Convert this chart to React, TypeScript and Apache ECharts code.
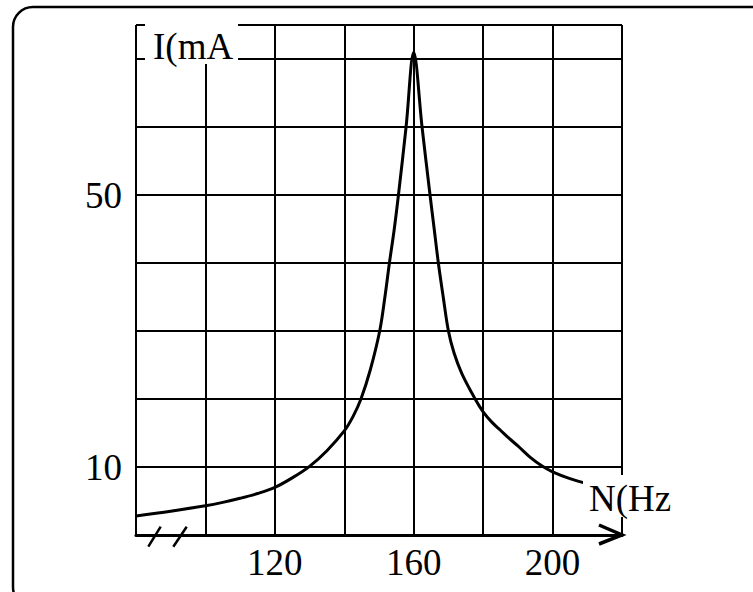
import React, { useEffect, useRef } from "react";
import * as echarts from "echarts";

const xMin = 80;
const xMax = 220;
const xInterval = 20;
const xTickLabels = [120, 160, 200];

const yMin = 0;
const yMax = 75;
const yInterval = 10;
const yTickLabels = [10, 50];

const frequencies = [
  80, 90, 100, 105, 110, 115, 120, 125, 130, 135, 140, 142.5, 144.8, 147.5, 150.2, 151.7, 153,
  154.4, 155.6, 157.8, 160, 162.4, 164.7, 165.9, 167.1, 168.5, 170, 171.6, 173.9, 177.7, 180,
  182.5, 185, 187.5, 190, 193.4, 197.1, 200, 205, 211,
];
const currents = [
  2.8, 3.5, 4.3, 4.8, 5.4, 6.1, 7.0, 8.4, 10.1, 12.4, 15.3, 17.4, 20, 24.3, 30, 35, 40,
  45, 50, 60, 71, 60, 50, 45, 40, 35, 30, 26.8, 23.7, 20, 18.1,
  16.6, 15.4, 14.2, 13.1, 11.5, 10.1, 9.3, 8.3, 7.4,
];

const xName = "N(Hz";
const yName = "I(mA";

const FONT = '"Liberation Serif", "Times New Roman", serif';

export default function App() {
  const ref = useRef<HTMLDivElement>(null);

  useEffect(() => {
    document.body.style.margin = "0";
    if (!ref.current) return;
    const chart = echarts.init(ref.current, undefined, { renderer: "svg" });
    const data = frequencies.map((f, i) => [f, currents[i]]);

    chart.setOption({
      animation: false,
      backgroundColor: "#fff",
      grid: { left: 136, top: 25, width: 486, height: 510, show: false },
      xAxis: {
        type: "value",
        min: xMin,
        max: xMax,
        interval: xInterval,
        axisLine: { show: true, lineStyle: { color: "#000", width: 3 } },
        axisTick: { show: false },
        splitLine: { show: true, lineStyle: { color: "#000", width: 2 } },
        axisLabel: {
          margin: 9,
          color: "#000",
          fontSize: 37,
          fontFamily: FONT,
          formatter: (v: number) => (xTickLabels.includes(v) ? String(v) : ""),
        },
      },
      yAxis: {
        type: "value",
        min: yMin,
        max: yMax,
        interval: yInterval,
        axisLine: { show: false },
        axisTick: { show: false },
        splitLine: { show: true, lineStyle: { color: "#000", width: 2 } },
        axisLabel: {
          margin: 14,
          color: "#000",
          fontSize: 37,
          fontFamily: FONT,
          padding: [6, 0, 0, 0],
          formatter: (v: number) => (yTickLabels.includes(v) ? String(v) : ""),
        },
      },
      series: [
        {
          type: "line",
          data,
          smooth: 0.35,
          showSymbol: false,
          clip: false,
          z: 3,
          lineStyle: { color: "#000", width: 3 },
        },
      ],
    });

    const o = chart.convertToPixel({ gridIndex: 0 }, [xMin, yMin]) as number[];
    const e = chart.convertToPixel({ gridIndex: 0 }, [xMax, yMax]) as number[];

    chart.setOption({
      graphic: [
        {
          type: "rect",
          z: 0,
          shape: { x: 13, y: 7, width: 760, height: 600, r: 20 },
          style: { fill: "none", stroke: "#000", lineWidth: 2.5 },
        },
        {
          type: "line",
          z: 20,
          shape: { x1: o[0] + 12.3, y1: o[1] + 11.7, x2: o[0] + 24.7, y2: o[1] - 8.3 },
          style: { stroke: "#000", lineWidth: 2.5 },
        },
        {
          type: "line",
          z: 20,
          shape: { x1: o[0] + 37.3, y1: o[1] + 11.7, x2: o[0] + 50.7, y2: o[1] - 8.3 },
          style: { stroke: "#000", lineWidth: 2.5 },
        },
        {
          type: "polyline",
          z: 20,
          shape: {
            points: [
              [e[0] - 23, o[1] - 10],
              [e[0], o[1]],
              [e[0] - 23, o[1] + 9],
            ],
          },
          style: { stroke: "#000", lineWidth: 3.5, fill: "none", lineJoin: "miter" },
        },
        {
          type: "rect",
          z: 50,
          shape: { x: o[0] + 9, y: e[1] - 3, width: 93, height: 42 },
          style: { fill: "#fff", stroke: "none" },
        },
        {
          type: "text",
          z: 51,
          x: o[0] + 17,
          y: e[1] + 21.8,
          style: {
            text: yName,
            fill: "#000",
            font: `37px ${FONT}`,
            verticalAlign: "middle",
            align: "left",
          },
        },
        {
          type: "rect",
          z: 50,
          shape: { x: e[0] - 39, y: o[1] - 60, width: 95, height: 42 },
          style: { fill: "#fff", stroke: "none" },
        },
        {
          type: "text",
          z: 51,
          x: e[0] - 33,
          y: o[1] - 36.8,
          style: {
            text: xName,
            fill: "#000",
            font: `37px ${FONT}`,
            verticalAlign: "middle",
            align: "left",
          },
        },
      ],
    });

    return () => chart.dispose();
  }, []);

  return <div ref={ref} style={{ width: 753, height: 592 }} />;
}
